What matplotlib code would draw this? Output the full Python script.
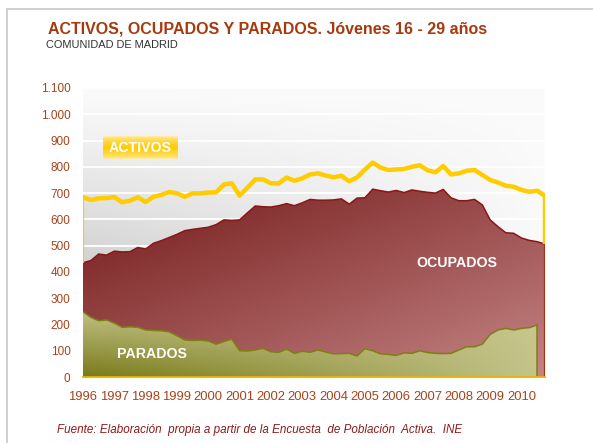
import numpy as np
import matplotlib
matplotlib.use("Agg")
import matplotlib.pyplot as plt
from matplotlib import font_manager
from matplotlib.ticker import FuncFormatter, FixedLocator, MultipleLocator
from matplotlib.patches import Rectangle

# ---------------- data (thousands, quarterly 1996Q1 - 2010Q4) ----------------
years = [str(y) for y in range(1996, 2011)]
activos = [684, 674, 680, 681, 685, 665, 671, 684, 666, 686,
           693, 704, 699, 686, 699, 699, 702, 703, 733, 737,
           690, 721, 752, 752, 737, 737, 759, 747, 756, 771,
           775, 767, 760, 766, 745, 760, 790, 816, 797, 788,
           790, 792, 800, 806, 787, 779, 803, 771, 775, 785,
           788, 769, 750, 740, 728, 724, 712, 705, 709, 689]
ocupados = [435, 443, 468, 464, 479, 476, 477, 493, 487, 509,
            519, 531, 543, 557, 562, 566, 570, 580, 598, 596,
            598, 625, 651, 648, 647, 652, 660, 652, 663, 676,
            673, 673, 674, 678, 658, 681, 682, 715, 709, 704,
            710, 702, 712, 707, 703, 700, 714, 682, 671, 671,
            676, 655, 598, 572, 549, 547, 529, 520, 515, 506]
parados = [248, 227, 214, 217, 205, 189, 191, 189, 179, 177,
           176, 172, 157, 141, 139, 140, 137, 125, 135, 144,
           100, 99, 103, 109, 96, 94, 106, 90, 98, 94,
           103, 95, 88, 89, 90, 80, 108, 100, 88, 86,
           82, 92, 90, 100, 93, 90, 89, 90, 103, 115,
           115, 125, 162, 179, 185, 179, 185, 188, 198]
y_ticks = list(range(0, 1101, 100))

# ---------------- fonts ----------------
names = {f.name for f in font_manager.fontManager.ttflist}
if "Liberation Sans Narrow" in names:
    FONT = "Liberation Sans Narrow"
    k = 1.0
else:
    FONT = "Liberation Sans"
    k = 0.85
plt.rcParams["font.family"] = [FONT, "DejaVu Sans"]

RUST = "#a8431a"

fig = plt.figure(figsize=(5.93, 4.43), dpi=100)
W, H = 593, 443

# outer frame
fig.patches.append(Rectangle((7 / W, -0.05), 1.2, 1 - 9 / H + 0.05, transform=fig.transFigure,
                             facecolor="white", edgecolor="#c8c8c8", lw=1.2, zorder=0))

ax = fig.add_axes([83 / W, 1 - 377 / H, (545 - 83) / W, (377 - 88) / H])
ax.set_zorder(2)

x = np.arange(len(activos))
xp = np.arange(len(parados))
xmax = len(activos) - 1
ymax = 1100

# background gradient (grey lower-left to white upper-right)
gh, gw = 200, 300
yy, xx = np.mgrid[0:gh, 0:gw]
xf = xx / (gw - 1)
yf = yy / (gh - 1)
g = 251 - 72 * (1 - yf) ** 1.1 * (1 - xf) ** 0.8
bg = np.dstack([g, g, g]) / 255.0
ax.imshow(bg, extent=[0, xmax, 0, ymax], origin="lower", aspect="auto", zorder=0)

# grid
for v in y_ticks[1:]:
    ax.axhline(v, color="white", lw=1.3, zorder=1)

# red area (ocupados) with gradient
dark = np.array([0x76, 0x1c, 0x1c]) / 255.0
light = np.array([0xc4, 0x84, 0x84]) / 255.0
t = np.clip(0.5 * xf + 0.5 * (1 - yf / 0.62), 0, 1)
red_img = dark[None, None, :] * (1 - t[..., None]) + light[None, None, :] * t[..., None]
red_poly = ax.fill_between(x, 0, ocupados, facecolor="none", edgecolor="none", zorder=2)
im_r = ax.imshow(red_img, extent=[0, xmax, 0, ymax], origin="lower", aspect="auto", zorder=2)
im_r.set_clip_path(red_poly.get_paths()[0], transform=ax.transData)
ax.plot(x, ocupados, color="#8a1616", lw=1.1, zorder=3)
ax.vlines(x[-1], 0, ocupados[-1], color="#b0300c", lw=1.6, zorder=3)

# green area (parados) with gradient
gdark = np.array([0x7a, 0x7a, 0x1a]) / 255.0
glight = np.array([0xc6, 0xc6, 0x8e]) / 255.0
vf = yy / (gh - 1) * ymax
d = np.clip((1 - xf) ** 0.9 * np.clip(1 - vf / 270, 0, 1), 0, 1)
grn_img = glight[None, None, :] * (1 - d[..., None]) + gdark[None, None, :] * d[..., None]
grn_poly = ax.fill_between(xp, 0, parados, facecolor="none", edgecolor="none", zorder=4)
im_g = ax.imshow(grn_img, extent=[0, xmax, 0, ymax], origin="lower", aspect="auto", zorder=4)
im_g.set_clip_path(grn_poly.get_paths()[0], transform=ax.transData)
ax.plot(xp, parados, color="#7f7f10", lw=1.1, zorder=5)
ax.vlines(xp[-1], 0, parados[-1], color="#7f7f10", lw=1.1, zorder=5)

# yellow activos line
YEL = "#ffcc00"
ax.plot(x, activos, color=YEL, lw=3.2, zorder=6, solid_joinstyle="round")
ax.vlines(x[-1], ocupados[-1], activos[-1], color=YEL, lw=3.2, zorder=6)
ax.vlines(x[0], ocupados[0], activos[0], color=YEL, lw=1.6, zorder=6)

ax.set_xlim(0, xmax)
ax.set_ylim(0, ymax)

# axes styling
for s in ["top", "right", "left"]:
    ax.spines[s].set_visible(False)
ax.spines["bottom"].set_color("#e8b400")
ax.spines["bottom"].set_linewidth(1.3)
ax.spines["bottom"].set_zorder(8)

ax.set_yticks(y_ticks)
ax.yaxis.set_major_formatter(FuncFormatter(lambda v, p: f"{int(v):,}".replace(",", ".")))
ax.tick_params(axis="y", length=0, pad=9, labelsize=10 * k, labelcolor=RUST)

ax.xaxis.set_major_locator(FixedLocator(list(range(0, len(years) * 4, 4))))
ax.set_xticklabels(years)
ax.xaxis.set_minor_locator(MultipleLocator(1))
ax.tick_params(axis="x", which="both", direction="in", color="white", length=3, width=1,
               labelsize=11 * k, labelcolor=RUST, pad=10)
for tl in ax.get_xticklines() + ax.xaxis.get_minorticklines():
    tl.set_zorder(9)

# ACTIVOS label box (gold gradient)
bx0, bx1 = (103 - 83) / 462, (177 - 83) / 462
by0, by1 = (377 - 159) / 289, (377 - 136) / 289
col = np.linspace(0, 1, 40)
prof = 1 - np.abs(col - 0.5) * 2
gold = np.array([1.0, 0.80, 0.0])
pale = np.array([1.0, 0.93, 0.70])
box = pale[None, :] * (1 - prof[:, None] ** 0.6) + gold[None, :] * prof[:, None] ** 0.6
box = np.repeat(box[:, None, :], 2, axis=1)
ax.imshow(box, extent=[bx0, bx1, by0, by1], transform=ax.transAxes, aspect="auto",
          zorder=7, origin="lower")
ax.text((bx0 + bx1) / 2, (by0 + by1) / 2, "ACTIVOS", transform=ax.transAxes, ha="center",
        va="center", color="white", fontsize=12 * k, fontweight="bold", zorder=8)
ax.set_xlim(0, xmax)
ax.set_ylim(0, ymax)

ax.text((457 - 83) / 462, (377 - 263) / 289, "OCUPADOS", transform=ax.transAxes, ha="center",
        va="center", color="white", fontsize=12 * k, fontweight="bold", zorder=8)
ax.text((152 - 83) / 462, (377 - 354) / 289, "PARADOS", transform=ax.transAxes, ha="center",
        va="center", color="white", fontsize=12 * k, fontweight="bold", zorder=8)

# titles
fig.text(48 / W, 1 - 29 / H, "ACTIVOS, OCUPADOS Y PARADOS. Jóvenes 16 - 29 años",
         ha="left", va="center", color="#a63a0e", fontsize=13.6 * k, fontweight="bold")
fig.text(46 / W, 1 - 45 / H, "COMUNIDAD DE MADRID", ha="left", va="center",
         color="#333333", fontsize=9.3 * k)
fig.text(57 / W, 1 - 430 / H,
         "Fuente: Elaboración  propia a partir de la Encuesta  de Población  Activa.  INE",
         ha="left", va="center", color="#8b1a1a", fontsize=9.9 * k, style="italic")

fig.savefig("out.png", dpi=100)
